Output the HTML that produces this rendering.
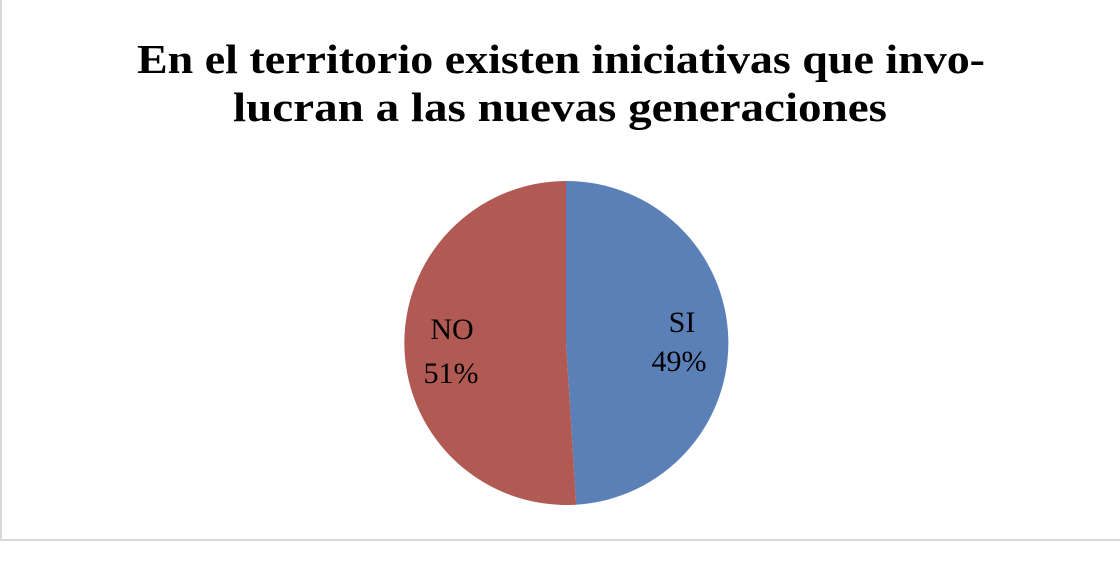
<!DOCTYPE html>
<html><head><meta charset="utf-8"><style>
html,body{margin:0;padding:0;background:#fff;}
</style></head><body>
<svg width="1120" height="556" xmlns="http://www.w3.org/2000/svg">
<rect x="0" y="0" width="1120" height="556" fill="#fff"/>
<rect x="0" y="0" width="2" height="541" fill="#d9d9d9"/>
<rect x="0" y="539" width="1120" height="2" fill="#d9d9d9"/>
<g font-family="Liberation Serif, serif" font-weight="bold" font-size="41" fill="#000" text-anchor="middle">
<text x="561" y="73" textLength="848" lengthAdjust="spacingAndGlyphs">En el territorio existen iniciativas que invo-</text>
<text x="560" y="121" textLength="654" lengthAdjust="spacingAndGlyphs">lucran a las nuevas generaciones</text>
</g>
<path d="M566,343 L566,181 A162,162 0 0,1 576.2,504.7 Z" fill="#5b80b8"/>
<path d="M566,343 L576.2,504.7 A162,162 0 1,1 566,181 Z" fill="#b05a53"/>
<g font-family="Liberation Serif, serif" font-size="30" fill="#000" text-anchor="middle">
<text x="682" y="332">SI</text>
<text x="679" y="371">49%</text>
<text x="452" y="339">NO</text>
<text x="451" y="383">51%</text>
</g>
</svg>
</body></html>
